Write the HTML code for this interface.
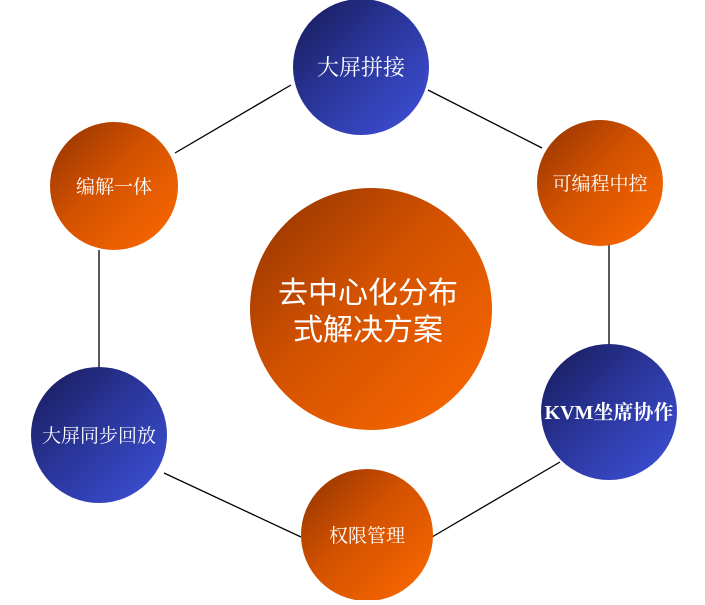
<!DOCTYPE html>
<html><head><meta charset="utf-8"><style>
html,body{margin:0;padding:0;background:#fff;}
</style></head><body>
<svg width="705" height="600" xmlns="http://www.w3.org/2000/svg">
<defs>
<linearGradient id="o" x1="0" y1="0" x2="1" y2="1">
<stop offset="0" stop-color="#8f3200"/><stop offset="0.45" stop-color="#d35200"/><stop offset="1" stop-color="#ff6a00"/>
</linearGradient>
<linearGradient id="b" x1="0" y1="0" x2="1" y2="1">
<stop offset="0" stop-color="#161a55"/><stop offset="0.45" stop-color="#2a3599"/><stop offset="1" stop-color="#3f52dc"/>
</linearGradient>
</defs>
<g stroke="#000" stroke-width="1.3">
<line x1="428" y1="90" x2="542" y2="148"/>
<line x1="609" y1="244" x2="609" y2="346"/>
<line x1="560" y1="462" x2="432" y2="537"/>
<line x1="301" y1="537" x2="164" y2="473"/>
<line x1="99" y1="250" x2="99" y2="368"/>
<line x1="175" y1="153" x2="291" y2="85"/>
</g>
<circle cx="361" cy="67" r="68" fill="url(#b)"/>
<circle cx="600" cy="183" r="63" fill="url(#o)"/>
<circle cx="609" cy="412" r="68" fill="url(#b)"/>
<circle cx="367" cy="535" r="66" fill="url(#o)"/>
<circle cx="99" cy="435" r="68" fill="url(#b)"/>
<circle cx="114" cy="186" r="64" fill="url(#o)"/>
<circle cx="371" cy="309" r="121" fill="url(#o)"/>
<g fill="#fff" text-anchor="middle" font-family="'Liberation Serif','Noto Serif CJK SC',serif">
<text x="361" y="75" font-size="22">大屏拼接</text>
<text x="600" y="190" font-size="19">可编程中控</text>
<text x="609" y="419" font-size="20" font-weight="bold">KVM坐席协作</text>
<text x="367" y="542" font-size="19">权限管理</text>
<text x="99" y="442" font-size="19">大屏同步回放</text>
<text x="114" y="193" font-size="19">编解一体</text>
</g>
<g fill="#fff" text-anchor="middle" font-family="'Liberation Sans','Noto Sans CJK SC',sans-serif" font-size="30">
<text x="368" y="303">去中心化分布</text>
<text x="368" y="340">式解决方案</text>
</g>
</svg>
</body></html>
